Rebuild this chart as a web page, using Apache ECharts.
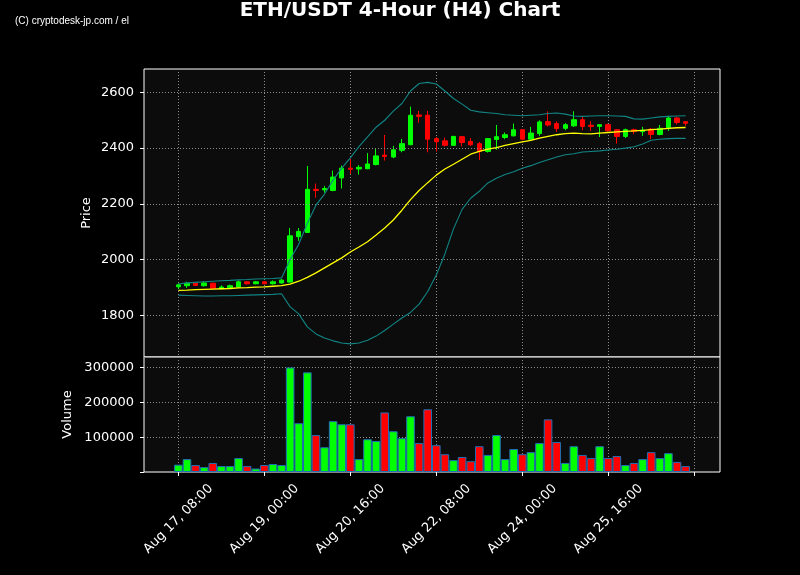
<!DOCTYPE html>
<html><head><meta charset="utf-8">
<script src="https://cdn.jsdelivr.net/npm/echarts@6/dist/echarts.min.js"></script>
<style>html,body{margin:0;padding:0;background:#000;}#c{width:800px;height:575px;}</style>
</head><body><div id="c"></div>
<script>
const categories = [
 'Aug 17, 08:00','Aug 17, 12:00','Aug 17, 16:00','Aug 17, 20:00',
 'Aug 18, 00:00','Aug 18, 04:00','Aug 18, 08:00','Aug 18, 12:00','Aug 18, 16:00','Aug 18, 20:00',
 'Aug 19, 00:00','Aug 19, 04:00','Aug 19, 08:00','Aug 19, 12:00','Aug 19, 16:00','Aug 19, 20:00',
 'Aug 20, 00:00','Aug 20, 04:00','Aug 20, 08:00','Aug 20, 12:00','Aug 20, 16:00','Aug 20, 20:00',
 'Aug 21, 00:00','Aug 21, 04:00','Aug 21, 08:00','Aug 21, 12:00','Aug 21, 16:00','Aug 21, 20:00',
 'Aug 22, 00:00','Aug 22, 04:00','Aug 22, 08:00','Aug 22, 12:00','Aug 22, 16:00','Aug 22, 20:00',
 'Aug 23, 00:00','Aug 23, 04:00','Aug 23, 08:00','Aug 23, 12:00','Aug 23, 16:00','Aug 23, 20:00',
 'Aug 24, 00:00','Aug 24, 04:00','Aug 24, 08:00','Aug 24, 12:00','Aug 24, 16:00','Aug 24, 20:00',
 'Aug 25, 00:00','Aug 25, 04:00','Aug 25, 08:00','Aug 25, 12:00','Aug 25, 16:00','Aug 25, 20:00',
 'Aug 26, 00:00','Aug 26, 04:00','Aug 26, 08:00','Aug 26, 12:00','Aug 26, 16:00','Aug 26, 20:00',
 'Aug 27, 00:00','Aug 27, 04:00'
];
const opens  = [1902,1906,1915,1906,1915,1895,1899,1901,1920,1913,1920,1913,1916,1919,2082,2097,2252,2250,2248,2293,2328,2325,2326,2341,2375,2368,2392,2412,2519,2518,2434,2426,2410,2441,2424,2416,2388,2431,2438,2444,2466,2432,2452,2495,2488,2471,2480,2502,2482,2478,2484,2466,2442,2466,2459,2468,2449,2473,2508,2495];
const closes = [1909,1915,1907,1916,1896,1901,1906,1920,1913,1920,1913,1920,1926,2085,2101,2252,2248,2255,2296,2328,2324,2331,2343,2372,2370,2394,2416,2518,2514,2432,2423,2410,2442,2420,2412,2388,2434,2441,2448,2466,2432,2454,2494,2483,2470,2484,2502,2478,2478,2484,2462,2442,2466,2460,2464,2449,2471,2508,2492,2489];
const lows   = [1895,1898,1905,1903,1893,1893,1897,1899,1910,1911,1911,1910,1913,1917,2067,2097,2222,2240,2245,2255,2307,2305,2324,2338,2355,2364,2385,2412,2491,2385,2388,2406,2408,2406,2408,2357,2384,2394,2432,2442,2428,2428,2444,2478,2458,2464,2476,2464,2461,2440,2460,2416,2436,2450,2444,2432,2446,2462,2485,2480];
const highs  = [1914,1920,1917,1922,1917,1907,1910,1925,1922,1923,1922,1925,1930,2113,2113,2336,2273,2264,2319,2337,2361,2339,2382,2400,2447,2408,2433,2549,2533,2533,2440,2438,2444,2443,2436,2422,2436,2483,2456,2488,2468,2476,2500,2532,2496,2490,2532,2514,2497,2486,2488,2468,2470,2470,2476,2472,2483,2516,2512,2497];
const volumes = [21000,37000,20000,14000,26000,17000,17000,40000,17000,10000,20000,23000,20000,300000,140000,286000,106000,71000,146000,137000,137000,37000,94000,89000,171000,117000,97000,160000,83000,180000,77000,51000,34000,43000,31000,74000,49000,106000,37000,66000,51000,57000,83000,151000,86000,26000,74000,49000,40000,74000,40000,46000,20000,26000,37000,57000,40000,54000,29000,17000];
const bbUpper  = [1912,1916,1918,1920,1922,1924,1925,1927,1928,1930,1931,1932,1934,2000,2055,2130,2195,2235,2285,2328,2365,2405,2440,2475,2500,2533,2560,2605,2632,2636,2630,2605,2578,2558,2536,2530,2527,2524,2520,2518,2516,2518,2520,2524,2526,2522,2515,2514,2515,2516,2516,2515,2514,2505,2504,2508,2512,2514,2515,2516];
const bbMiddle = [1889,1890,1892,1893,1894,1895,1896,1898,1899,1901,1902,1904,1906,1912,1922,1936,1952,1970,1988,2006,2027,2045,2064,2088,2113,2142,2177,2215,2248,2276,2303,2325,2342,2360,2378,2388,2396,2402,2410,2416,2422,2428,2436,2442,2448,2452,2454,2452,2451,2454,2456,2458,2460,2462,2464,2466,2468,2471,2473,2474];
const bbLower  = [1872,1871,1870,1869,1869,1870,1870,1871,1872,1873,1874,1875,1877,1830,1805,1758,1733,1718,1708,1700,1697,1700,1710,1725,1745,1768,1790,1810,1840,1885,1944,2020,2110,2180,2220,2245,2275,2292,2305,2315,2328,2337,2348,2358,2368,2376,2380,2386,2388,2390,2393,2396,2400,2405,2415,2428,2432,2434,2435,2435];
const priceTicks = [1800,2000,2200,2400,2600];

const PAD_L = 4, PAD_R = 4;
const axisCats = [];
for (let i = 0; i < PAD_L; i++) axisCats.push('pad' + i);
categories.forEach(c => axisCats.push(c));
for (let i = 0; i < PAD_R; i++) axisCats.push('pad' + (PAD_L + i));

const UP = '#00ff00', DOWN = '#ff0000';
const tickInterval = (idx) => idx >= PAD_L && (idx - PAD_L) % 10 === 0;
const gridStyle = {color: '#8c8c8c', type: [1, 2], width: 1};

const candleData = categories.map((_, i) => [i + PAD_L, opens[i], closes[i], lows[i], highs[i]]);
const volData = categories.map((_, i) => ({
  value: [i + PAD_L, volumes[i]],
  itemStyle: {color: closes[i] >= opens[i] ? UP : DOWN}
}));
const toLine = arr => arr.map((v, i) => [i + PAD_L, v]);

const chart = echarts.init(document.getElementById('c'), null, {renderer: 'canvas'});
chart.setOption({
  backgroundColor: '#000',
  animation: false,
  textStyle: {fontFamily: 'DejaVu Sans'},
  title: {
    text: 'ETH/USDT 4-Hour (H4) Chart', left: 'center', top: 1, padding: 0,
    textStyle: {color: '#fff', fontSize: 20, fontWeight: 'bold', fontFamily: 'DejaVu Sans'}
  },
  graphic: [{
    type: 'text', left: 15, top: 16,
    style: {text: '(C) cryptodesk-jp.com / el', fill: '#fff', font: '10px "Liberation Sans"'}
  }],
  grid: [
    {left: 144, right: 80, top: 69, height: 288, show: true, backgroundColor: '#0c0c0c', borderColor: '#fff', borderWidth: 1},
    {left: 144, right: 80, top: 357, height: 115, show: true, backgroundColor: '#0c0c0c', borderColor: '#fff', borderWidth: 1}
  ],
  xAxis: [
    {gridIndex: 0, type: 'category', data: axisCats, boundaryGap: false,
     axisLine: {show: false}, axisTick: {show: false}, axisLabel: {show: false},
     splitLine: {show: true, interval: tickInterval, lineStyle: gridStyle}},
    {gridIndex: 1, type: 'category', data: axisCats, boundaryGap: false,
     axisLine: {show: false},
     axisTick: {show: true, interval: tickInterval, length: 4, lineStyle: {color: '#fff'}},
     axisLabel: {interval: tickInterval, rotate: 45, align: 'center', verticalAlign: 'middle', margin: 47,
       color: '#fff', fontSize: 13, fontFamily: 'DejaVu Sans',
       formatter: v => v.indexOf('pad') === 0 ? '' : v},
     splitLine: {show: true, interval: tickInterval, lineStyle: gridStyle}}
  ],
  yAxis: [
    {gridIndex: 0, type: 'value', min: 1650, max: 2684, scale: true,
     axisLine: {show: false},
     axisTick: {show: true, customValues: priceTicks, length: 4, lineStyle: {color: '#fff'}},
     axisLabel: {customValues: priceTicks, color: '#fff', fontSize: 13, margin: 10,
       formatter: v => String(v)},
     splitLine: {show: false},
     name: 'Price', nameLocation: 'middle', nameGap: 51, nameMoveOverlap: false,
     nameTextStyle: {color: '#fff', fontSize: 13}},
    {gridIndex: 1, type: 'value', min: 0, max: 330000, interval: 100000,
     axisLine: {show: false},
     axisTick: {show: true, length: 4, lineStyle: {color: '#fff'}},
     axisLabel: {color: '#fff', fontSize: 13, margin: 10, showMaxLabel: false,
       formatter: v => v === 0 ? '' : String(v)},
     splitLine: {show: true, lineStyle: gridStyle},
     name: 'Volume', nameLocation: 'middle', nameGap: 70, nameMoveOverlap: false,
     nameTextStyle: {color: '#fff', fontSize: 13}}
  ],
  series: [
    {type: 'candlestick', xAxisIndex: 0, yAxisIndex: 0, data: candleData,
     encode: {x: 0, y: [1, 2, 3, 4]}, barWidth: 5,
     itemStyle: {color: UP, color0: DOWN, borderColor: UP, borderColor0: DOWN, borderWidth: 1},
     markLine: {silent: true, symbol: ['none', 'none'], label: {show: false},
       lineStyle: gridStyle, emphasis: {disabled: true},
       data: priceTicks.map(v => ({yAxis: v}))}},
    {type: 'line', xAxisIndex: 0, yAxisIndex: 0, data: toLine(bbUpper), symbol: 'none',
     lineStyle: {color: '#128585', width: 1.1}, z: 5},
    {type: 'line', xAxisIndex: 0, yAxisIndex: 0, data: toLine(bbLower), symbol: 'none',
     lineStyle: {color: '#128585', width: 1.1}, z: 5},
    {type: 'line', xAxisIndex: 0, yAxisIndex: 0, data: toLine(bbMiddle), symbol: 'none',
     lineStyle: {color: '#ffff00', width: 1.3}, z: 5},
    {type: 'bar', xAxisIndex: 1, yAxisIndex: 1, data: volData, barWidth: 8.6,
     itemStyle: {borderColor: '#1f6fb4', borderWidth: 1}}
  ]
});
</script>
</body></html>
